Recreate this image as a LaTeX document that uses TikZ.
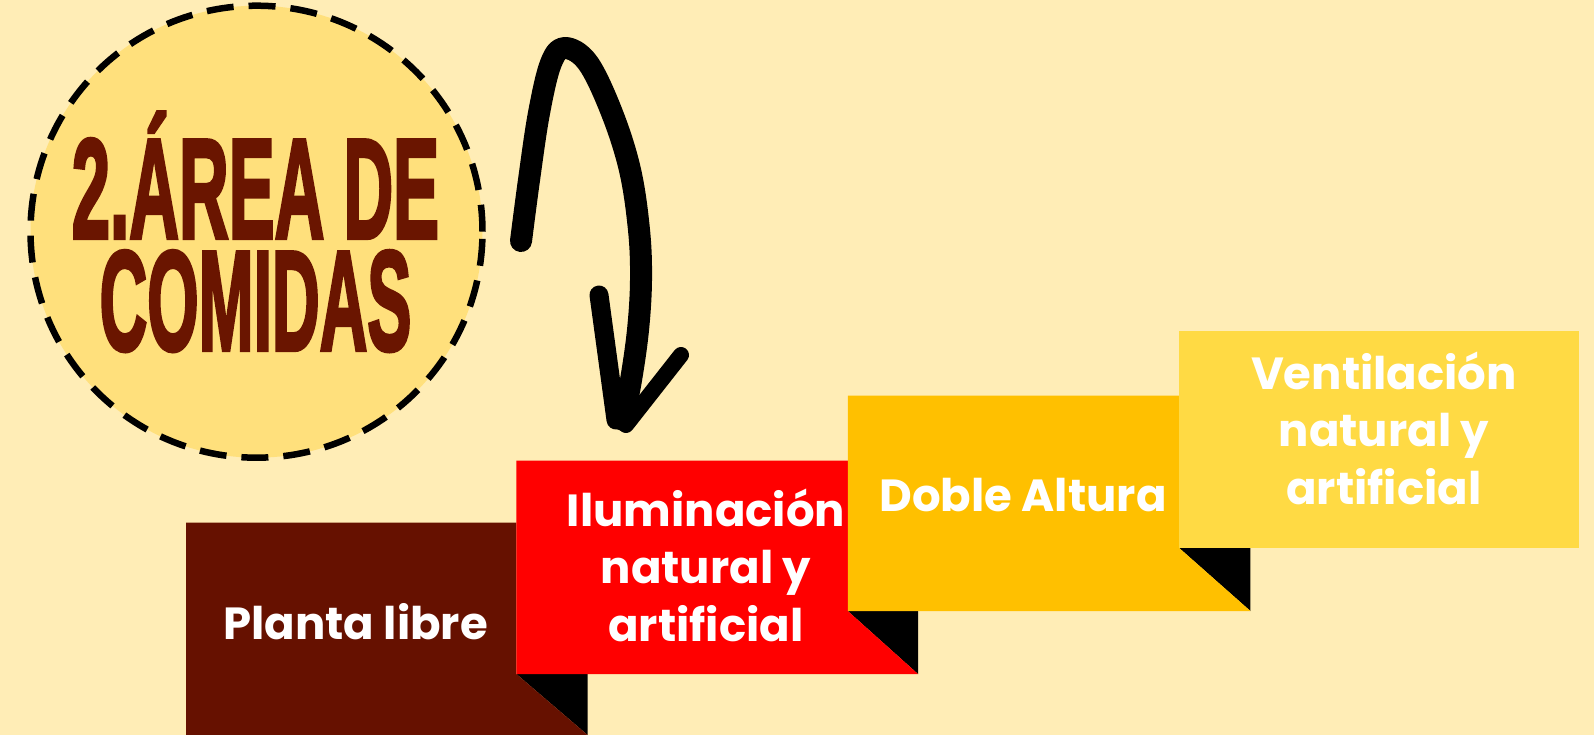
\documentclass[tikz,border=0pt]{standalone}
\usepackage{fontspec}
\setmainfont{Poppins}
\newfontfamily\headfont{Liberation Sans}[BoldFeatures={FakeBold=3}]
\usetikzlibrary{positioning}
\definecolor{cream}{RGB}{255,237,182}
\definecolor{gold}{RGB}{255,224,124}
\definecolor{maroon}{RGB}{102,17,0}
\definecolor{titlered}{RGB}{106,21,0}
\definecolor{amber}{RGB}{255,192,0}
\definecolor{sunny}{RGB}{255,218,68}

\begin{document}
\begin{tikzpicture}[x=1pt,y=-1pt,
  steptext/.style={text=white,font=\fontsize{45}{57.5}\selectfont\bfseries,
              align=center,inner sep=0pt,anchor=base},
  headline/.style={text=titlered,inner sep=0pt,anchor=base,align=center,
              font=\headfont\bfseries\fontsize{142}{112}\selectfont},
  flap/.style={fill=black},
  penline/.style={draw=black,line width=22pt,line cap=round,line join=round}]
  \useasboundingbox[fill=cream] (0,0) rectangle (1594,735);

  % badge with the title
  \node[circle,fill=gold,draw=black,line width=6.5pt,dash pattern=on 27pt off 15pt,
        minimum size=452pt,inner sep=0pt] (badge) at (256.5,231.7) {};
  \node[headline] (title) at (255.5,350)
        {\scalebox{0.485}[1]{2.ÁREA DE}\\\scalebox{0.465}[1]{COMIDAS}};

  % hand drawn arrow
  \draw[penline] plot[smooth,tension=0.6] coordinates {(521,241) (529,180) (539,113)
        (551,63) (565,48) (588,63) (612,113) (630,170) (639,230)
        (641,280) (638,330) (631,380) (623,420)};
  \draw[penline,line width=19pt] (599,295) -- (616,420);
  \draw[penline,line width=16pt] (681,355) -- (626,425);

  % steps
  \fill[flap] (516.4,674) -- (587.6,674) -- (587.6,735) -- cycle;
  \fill[maroon] (186,522.5) -- (516.4,522.5) -- (516.4,674) -- (587.6,735) -- (186,735) -- cycle;
  \fill[flap] (847.8,611) -- (918,611) -- (918,674) -- cycle;
  \fill[red] (516.4,460.5) -- (847.8,460.5) -- (847.8,611) -- (918,674) -- (516.4,674) -- cycle;
  \fill[flap] (1179.2,548) -- (1250.4,548) -- (1250.4,611) -- cycle;
  \fill[amber] (847.8,395.5) -- (1179.2,395.5) -- (1179.2,548) -- (1250.4,611) -- (847.8,611) -- cycle;
  \fill[sunny] (1179.2,331.4) rectangle (1578.7,548);

  \node[steptext] (planta) at (355.5,639) {Planta libre};
  \node[steptext] (ilum) at (706,641) {Iluminación\\natural y\\artificial};
  \node[steptext] (doble) at (1023,511.7) {Doble Altura};
  \node[steptext] (venti) at (1384,504) {Ventilación\\natural y\\artificial};
\end{tikzpicture}
\end{document}
